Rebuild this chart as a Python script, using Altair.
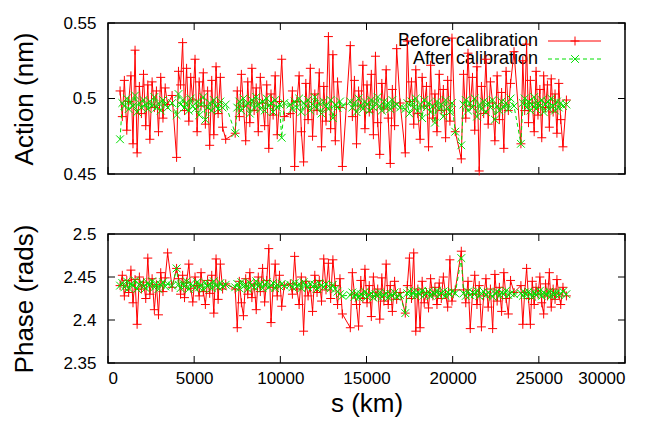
import altair as alt
import pandas as pd

FONT = "Liberation Sans"

# x positions (km), 8 observation blocks
S_KM = [
    700, 830, 950, 1090, 1200, 1330, 1450, 1570, 1690, 1820, 1940, 2060, 2190, 2310, 2430, 2560, 2690, 2810, 2930, 3060, 3190, 3320, 3460, 3720,
    3980, 4090, 4210, 4330, 4440, 4560, 4690, 4800, 4920, 5050, 5170, 5290, 5400, 5530, 5650, 5780, 5900, 6020, 6140, 6270, 6390, 6520, 6650, 6830,
    7380, 7500, 7620, 7740, 7860, 7990, 8110, 8230, 8350, 8480, 8600, 8720, 8840, 8970, 9090, 9210, 9330, 9460, 9580, 9700, 9820, 9950, 10080, 10230,
    10580, 10700, 10830, 10960, 11090, 11220, 11350, 11480, 11610, 11740, 11870, 12000, 12130, 12260, 12390, 12520, 12650, 12790, 12920, 13050, 13190, 13320, 13460, 13600,
    14060, 14180, 14300, 14420, 14540, 14670, 14790, 14910, 15030, 15160, 15280, 15400, 15520, 15650, 15770, 15890, 16010, 16140, 16260, 16380, 16500, 16630, 16750, 16950,
    17250, 17370, 17490, 17610, 17740, 17860, 17980, 18110, 18230, 18350, 18480, 18600, 18720, 18850, 18970, 19090, 19220, 19340, 19460, 19590, 19710, 19840, 19960, 20150,
    20500, 20630, 20760, 20890, 21020, 21150, 21280, 21410, 21540, 21670, 21800, 21930, 22060, 22190, 22320, 22450, 22580, 22710, 22840, 22970, 23100, 23230, 23360, 23560,
    23960, 24070, 24180, 24290, 24400, 24510, 24620, 24730, 24840, 24950, 25060, 25170, 25280, 25390, 25500, 25610, 25720, 25830, 25940, 26050, 26160, 26270, 26400, 26600,
]

ACTION_BEFORE = [
    0.505, 0.488, 0.512, 0.479, 0.498, 0.515, 0.470, 0.532, 0.464, 0.508, 0.490, 0.516, 0.482, 0.509, 0.473, 0.511, 0.494, 0.505, 0.478, 0.514, 0.487, 0.507, 0.496, 0.502,
    0.461, 0.518, 0.509, 0.537, 0.492, 0.520, 0.485, 0.514, 0.499, 0.526, 0.478, 0.511, 0.495, 0.517, 0.483, 0.505, 0.469, 0.512, 0.476, 0.521, 0.490, 0.514, 0.481, 0.473,
    0.477, 0.505, 0.488, 0.516, 0.495, 0.472, 0.511, 0.484, 0.520, 0.492, 0.507, 0.478, 0.514, 0.497, 0.482, 0.509, 0.467, 0.503, 0.489, 0.515, 0.476, 0.498, 0.526, 0.488,
    0.490, 0.505, 0.455, 0.498, 0.515, 0.478, 0.458, 0.510, 0.486, 0.520, 0.475, 0.503, 0.492, 0.517, 0.468, 0.508, 0.485, 0.541, 0.480, 0.529, 0.472, 0.511, 0.494, 0.455,
    0.535, 0.488, 0.512, 0.470, 0.505, 0.495, 0.522, 0.480, 0.509, 0.491, 0.516, 0.476, 0.528, 0.484, 0.463, 0.510, 0.493, 0.519, 0.487, 0.457, 0.506, 0.482, 0.533, 0.497,
    0.464, 0.538, 0.498, 0.511, 0.483, 0.519, 0.490, 0.473, 0.514, 0.495, 0.508, 0.468, 0.522, 0.487, 0.503, 0.478, 0.516, 0.492, 0.506, 0.474, 0.512, 0.485, 0.540, 0.478,
    0.460, 0.516, 0.487, 0.530, 0.495, 0.514, 0.479, 0.521, 0.452, 0.508, 0.490, 0.526, 0.483, 0.511, 0.497, 0.472, 0.515, 0.486, 0.504, 0.467, 0.518, 0.492, 0.510, 0.531,
    0.470, 0.525, 0.492, 0.536, 0.484, 0.512, 0.497, 0.478, 0.518, 0.489, 0.506, 0.474, 0.515, 0.494, 0.509, 0.481, 0.513, 0.491, 0.503, 0.477, 0.510, 0.486, 0.468, 0.499,
]

ACTION_AFTER = [
    0.473, 0.497, 0.495, 0.500, 0.493, 0.498, 0.495, 0.502, 0.491, 0.497, 0.494, 0.499, 0.496, 0.493, 0.498, 0.495, 0.501, 0.494, 0.497, 0.492, 0.499, 0.496, 0.494, 0.497,
    0.489, 0.503, 0.496, 0.499, 0.494, 0.497, 0.492, 0.500, 0.495, 0.493, 0.498, 0.489, 0.496, 0.501, 0.486, 0.494, 0.497, 0.492, 0.499, 0.495, 0.493, 0.498, 0.494, 0.496,
    0.477, 0.494, 0.498, 0.492, 0.500, 0.495, 0.497, 0.490, 0.499, 0.494, 0.501, 0.496, 0.493, 0.498, 0.492, 0.500, 0.495, 0.497, 0.491, 0.499, 0.494, 0.496, 0.474, 0.497,
    0.496, 0.493, 0.498, 0.494, 0.500, 0.491, 0.497, 0.495, 0.499, 0.492, 0.496, 0.501, 0.494, 0.497, 0.490, 0.498, 0.495, 0.493, 0.499, 0.487, 0.496, 0.494, 0.498, 0.495,
    0.498, 0.494, 0.497, 0.491, 0.500, 0.495, 0.493, 0.498, 0.496, 0.492, 0.499, 0.494, 0.497, 0.501, 0.495, 0.492, 0.498, 0.494, 0.497, 0.493, 0.499, 0.495, 0.496, 0.494,
    0.493, 0.497, 0.490, 0.498, 0.494, 0.500, 0.492, 0.496, 0.487, 0.499, 0.494, 0.497, 0.491, 0.495, 0.484, 0.498, 0.493, 0.496, 0.488, 0.499, 0.494, 0.491, 0.497, 0.478,
    0.469, 0.496, 0.499, 0.492, 0.497, 0.494, 0.500, 0.488, 0.496, 0.493, 0.498, 0.491, 0.497, 0.494, 0.499, 0.486, 0.495, 0.492, 0.498, 0.494, 0.497, 0.493, 0.500, 0.495,
    0.470, 0.497, 0.500, 0.494, 0.498, 0.492, 0.496, 0.501, 0.493, 0.497, 0.495, 0.499, 0.491, 0.496, 0.498, 0.493, 0.500, 0.495, 0.492, 0.498, 0.494, 0.497, 0.495, 0.496,
]

PHASE_BEFORE = [
    2.440, 2.452, 2.428, 2.446, 2.432, 2.458, 2.420, 2.447, 2.395, 2.450, 2.436, 2.444, 2.425, 2.472, 2.430, 2.448, 2.412, 2.441, 2.406, 2.455, 2.433, 2.449, 2.478, 2.438,
    2.460, 2.448, 2.430, 2.452, 2.426, 2.444, 2.465, 2.437, 2.421, 2.450, 2.440, 2.428, 2.455, 2.433, 2.418, 2.446, 2.431, 2.452, 2.408, 2.471, 2.424, 2.465, 2.436, 2.442,
    2.436, 2.391, 2.445, 2.420, 2.405, 2.448, 2.430, 2.455, 2.426, 2.442, 2.412, 2.450, 2.433, 2.460, 2.421, 2.446, 2.483, 2.397, 2.438, 2.465, 2.428, 2.452, 2.416, 2.440,
    2.442, 2.430, 2.474, 2.436, 2.418, 2.450, 2.387, 2.445, 2.428, 2.438, 2.410, 2.452, 2.432, 2.446, 2.422, 2.471, 2.435, 2.466, 2.425, 2.470, 2.440, 2.418, 2.448, 2.407,
    2.391, 2.455, 2.430, 2.418, 2.393, 2.446, 2.425, 2.459, 2.420, 2.440, 2.404, 2.450, 2.428, 2.436, 2.401, 2.449, 2.422, 2.465, 2.418, 2.440, 2.410, 2.445, 2.424, 2.432,
    2.408, 2.440, 2.472, 2.425, 2.478, 2.387, 2.436, 2.391, 2.445, 2.420, 2.432, 2.414, 2.448, 2.428, 2.438, 2.418, 2.443, 2.425, 2.450, 2.430, 2.415, 2.470, 2.422, 2.435,
    2.480, 2.435, 2.420, 2.445, 2.390, 2.430, 2.452, 2.418, 2.440, 2.392, 2.428, 2.448, 2.415, 2.436, 2.390, 2.453, 2.422, 2.438, 2.410, 2.455, 2.425, 2.407, 2.446, 2.432,
    2.440, 2.395, 2.432, 2.460, 2.425, 2.395, 2.445, 2.418, 2.438, 2.430, 2.450, 2.420, 2.407, 2.442, 2.428, 2.455, 2.415, 2.436, 2.424, 2.447, 2.430, 2.418, 2.438, 2.428,
]

PHASE_AFTER = [
    2.440, 2.443, 2.438, 2.445, 2.437, 2.442, 2.440, 2.446, 2.436, 2.441, 2.444, 2.439, 2.437, 2.443, 2.440, 2.445, 2.438, 2.442, 2.436, 2.441, 2.444, 2.439, 2.442, 2.440,
    2.460, 2.441, 2.437, 2.443, 2.439, 2.445, 2.436, 2.442, 2.440, 2.437, 2.444, 2.438, 2.441, 2.436, 2.443, 2.439, 2.442, 2.437, 2.445, 2.440, 2.438, 2.443, 2.439, 2.441,
    2.438, 2.442, 2.437, 2.444, 2.439, 2.441, 2.436, 2.443, 2.440, 2.438, 2.445, 2.439, 2.442, 2.437, 2.441, 2.444, 2.438, 2.440, 2.443, 2.437, 2.441, 2.439, 2.442, 2.440,
    2.441, 2.438, 2.443, 2.439, 2.442, 2.437, 2.444, 2.440, 2.438, 2.442, 2.439, 2.441, 2.436, 2.443, 2.440, 2.438, 2.442, 2.439, 2.437, 2.441, 2.436, 2.433, 2.430, 2.428,
    2.429, 2.432, 2.427, 2.431, 2.426, 2.430, 2.428, 2.433, 2.427, 2.429, 2.431, 2.426, 2.430, 2.428, 2.432, 2.427, 2.429, 2.431, 2.426, 2.430, 2.428, 2.432, 2.427, 2.429,
    2.408, 2.431, 2.434, 2.429, 2.433, 2.428, 2.432, 2.430, 2.434, 2.429, 2.431, 2.433, 2.428, 2.432, 2.430, 2.434, 2.429, 2.431, 2.433, 2.428, 2.432, 2.430, 2.433, 2.431,
    2.472, 2.431, 2.428, 2.433, 2.429, 2.432, 2.430, 2.434, 2.428, 2.431, 2.433, 2.429, 2.432, 2.430, 2.427, 2.431, 2.433, 2.428, 2.432, 2.430, 2.434, 2.429, 2.431, 2.430,
    2.431, 2.428, 2.432, 2.429, 2.433, 2.430, 2.427, 2.432, 2.429, 2.431, 2.434, 2.428, 2.432, 2.430, 2.429, 2.433, 2.428, 2.431, 2.430, 2.432, 2.429, 2.431, 2.433, 2.430,
]

X_TICKS = [0, 5000, 10000, 15000, 20000, 25000, 30000]
ACTION_TICKS = [0.45, 0.5, 0.55]
PHASE_TICKS = [2.35, 2.4, 2.45, 2.5]
LEGEND_LABELS = ["Before calibration", "After calibration"]

df = pd.DataFrame({"s": S_KM, "ab": ACTION_BEFORE, "aa": ACTION_AFTER,
                   "pb": PHASE_BEFORE, "pa": PHASE_AFTER})

W = 517
RED = "#ff0000"
GREEN = "#00e000"
PLUS = "M-1,0L1,0M0,-1L0,1"
CROSS = "M-1,-1L1,1M-1,1L1,-1"
TL = 7  # inward tick length
xscale = alt.Scale(domain=[0, 30000], nice=False, zero=False)


def panel(col_b, col_a, ydom, yticks, title, h, show_x, legend):
    yscale = alt.Scale(domain=ydom, nice=False, zero=False)
    yaxis = alt.Axis(values=yticks, format="~g", ticks=False, domain=False, grid=False,
                     labelFontSize=17, labelPadding=12, title=title, titleFontSize=26,
                     titleFontWeight="normal", titlePadding=25)
    if show_x:
        xaxis = alt.Axis(values=X_TICKS, format="d", ticks=False, domain=False, grid=False,
                         labelFontSize=17, labelPadding=7, title="s (km)", titleFontSize=26,
                         titleFontWeight="normal", titlePadding=4)

        def X(field):
            return alt.X(field, scale=xscale, axis=xaxis)
    else:
        def X(field):
            return alt.X(field, scale=xscale, axis=None)

    def Y(field):
        return alt.Y(field, scale=yscale, axis=yaxis)

    base = alt.Chart(df)
    layers = []
    if legend:
        ld = alt.Chart(pd.DataFrame({"a": [0]}))
        for i, (lab, col, shape, dash, size) in enumerate(
                [(LEGEND_LABELS[0], RED, PLUS, [1, 0], 80), (LEGEND_LABELS[1], GREEN, CROSS, [4, 3], 60)]):
            yy = 18 + 18 * i
            layers.append(ld.mark_text(align="right", baseline="middle", fontSize=18, font=FONT,
                                       color="black", text=lab).encode(x=alt.value(430), y=alt.value(yy)))
            layers.append(ld.mark_rule(color=col, strokeWidth=1, strokeDash=dash).encode(
                x=alt.value(440), x2=alt.value(493), y=alt.value(yy)))
            layers.append(ld.mark_point(shape=shape, filled=False, color=col, size=size, strokeWidth=1,
                                        opacity=1).encode(x=alt.value(467), y=alt.value(yy)))
    layers += [
        base.mark_line(color=RED, strokeWidth=1).encode(x=X("s:Q"), y=Y(f"{col_b}:Q")),
        base.mark_point(shape=PLUS, filled=False, color=RED, size=80, strokeWidth=1, opacity=1).encode(
            x=X("s:Q"), y=Y(f"{col_b}:Q")),
        base.mark_line(color=GREEN, strokeWidth=1, strokeDash=[4, 3]).encode(x=X("s:Q"), y=Y(f"{col_a}:Q")),
        base.mark_point(shape=CROSS, filled=False, color=GREEN, size=60, strokeWidth=1, opacity=1).encode(
            x=X("s:Q"), y=Y(f"{col_a}:Q")),
    ]
    xt = alt.Chart(pd.DataFrame({"s": X_TICKS}))
    yt = alt.Chart(pd.DataFrame({col_b: yticks}))
    layers += [
        xt.mark_rule(color="black", strokeWidth=1).encode(x=X("s:Q"), y=alt.value(h), y2=alt.value(h - TL)),
        xt.mark_rule(color="black", strokeWidth=1).encode(x=X("s:Q"), y=alt.value(0), y2=alt.value(TL)),
        yt.mark_rule(color="black", strokeWidth=1).encode(y=Y(f"{col_b}:Q"), x=alt.value(0), x2=alt.value(TL)),
        yt.mark_rule(color="black", strokeWidth=1).encode(y=Y(f"{col_b}:Q"), x=alt.value(W - TL), x2=alt.value(W)),
    ]
    return alt.layer(*layers).properties(width=W, height=h)


top = panel("ab", "aa", [0.45, 0.55], ACTION_TICKS, "Action (nm)", 151, False, True)
bottom = panel("pb", "pa", [2.35, 2.5], PHASE_TICKS, "Phase (rads)", 129, True, False)

chart = alt.vconcat(top, bottom, spacing=60, bounds="flush").properties(
    padding={"left": 3, "top": 5, "right": 5, "bottom": 2}
).configure(font=FONT).configure_view(
    stroke="black", strokeWidth=1.5
).configure_axis(labelColor="black", titleColor="black", labelFont=FONT, titleFont=FONT)

chart.save("out.html", embed_options={"renderer": "svg", "actions": False})
